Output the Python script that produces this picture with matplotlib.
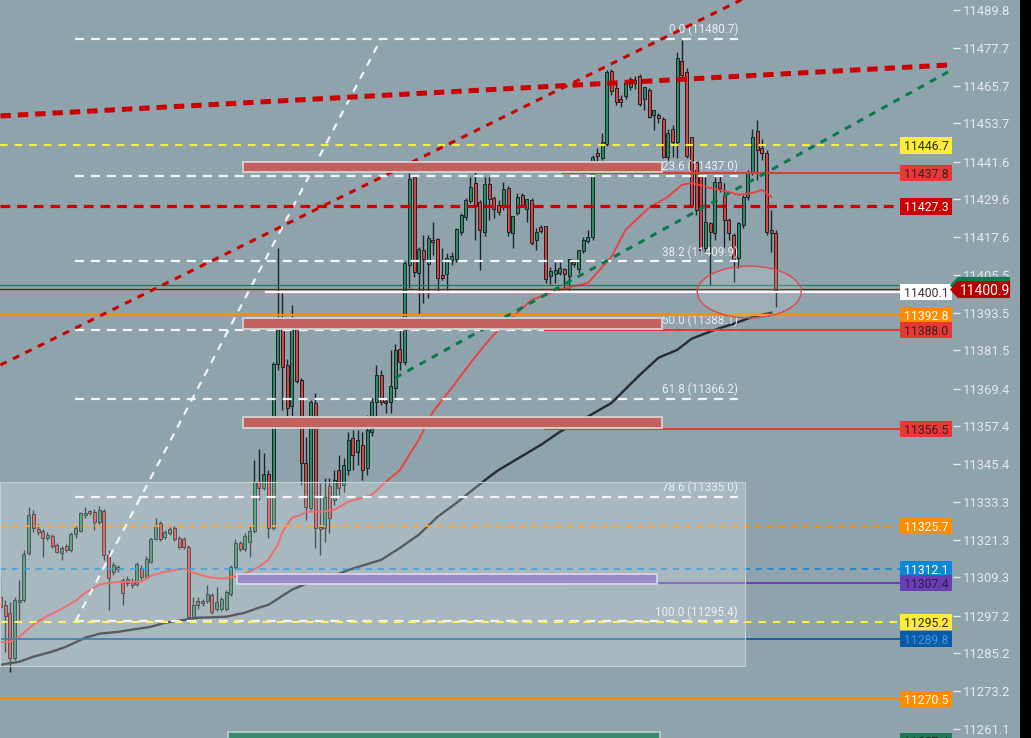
import matplotlib.pyplot as plt
import matplotlib.patches as mpatches
import numpy as np

plt.rcParams['font.family'] = ['Roboto', 'DejaVu Sans']
plt.rcParams['lines.scale_dashes'] = False

# ===== ДАННЫЕ =====
opens = [11303.2, 11300.6, 11298.1, 11283.8, 11301.6, 11302.2, 11317.1, 11329.5, 11324.8, 11324.1,
         11321.9, 11322.6, 11319.7, 11317.1, 11319.4, 11318.1, 11323.2, 11324.1, 11329.2, 11330.5,
         11330.2, 11327.0, 11330.5, 11316.5, 11311.1, 11312.7, 11308.6, 11307.6, 11307.9, 11307.3,
         11312.4, 11309.5, 11314.3, 11321.6, 11326.7, 11322.2, 11323.5, 11325.1, 11321.9, 11321.6,
         11319.1, 11296.8, 11300.6, 11301.9, 11301.9, 11303.8, 11299.3, 11299.3, 11299.3, 11304.1,
         11312.7, 11320.3, 11318.4, 11320.6, 11324.1, 11339.7, 11337.8, 11342.3, 11325.1, 11377.2,
         11389.3, 11376.9, 11363.9, 11389.0, 11372.2, 11345.8, 11331.5, 11364.8, 11325.4, 11325.1,
         11338.5, 11334.0, 11343.5, 11338.8, 11343.5, 11353.7, 11349.3, 11351.5, 11344.2, 11355.6,
         11365.2, 11373.7, 11365.5, 11365.2, 11369.6, 11382.0, 11377.9, 11408.7, 11436.7, 11406.2,
         11413.5, 11409.0, 11416.7, 11417.0, 11405.6, 11405.9, 11410.3, 11410.6, 11419.2, 11424.0,
         11429.1, 11434.8, 11428.8, 11419.2, 11434.5, 11430.0, 11427.8, 11427.2, 11433.2, 11418.9,
         11425.3, 11431.0, 11426.5, 11429.4, 11416.7, 11420.8, 11421.1, 11405.2, 11405.9, 11406.2,
         11407.5, 11405.2, 11409.7, 11407.5, 11413.2, 11416.4, 11417.6, 11444.3, 11442.8, 11447.2,
         11470.4, 11465.0, 11461.5, 11462.5, 11465.3, 11466.6, 11468.8, 11461.5, 11464.4, 11456.4,
         11456.4, 11455.2, 11443.1, 11452.0, 11447.8, 11473.6, 11470.1, 11449.4, 11441.5, 11437.4,
         11414.1, 11422.1, 11418.9, 11435.1, 11430.7, 11423.0, 11418.3, 11411.0, 11421.5, 11430.4,
         11438.0, 11451.3, 11445.9, 11444.3, 11419.9, 11418.9]
highs = [11309.5, 11302.2, 11301.6, 11303.2, 11308.6, 11318.1, 11331.8, 11330.8, 11326.4, 11324.8,
         11323.8, 11323.2, 11320.3, 11319.4, 11320.0, 11323.8, 11326.0, 11330.2, 11331.8, 11330.8,
         11331.1, 11332.1, 11331.1, 11318.1, 11314.3, 11313.3, 11309.2, 11309.8, 11309.2, 11314.3,
         11313.3, 11316.2, 11322.2, 11328.3, 11327.3, 11324.5, 11325.4, 11325.7, 11322.6, 11322.2,
         11319.7, 11303.2, 11303.2, 11302.5, 11307.0, 11304.4, 11306.3, 11303.2, 11305.4, 11313.3,
         11321.6, 11321.0, 11323.5, 11326.0, 11346.7, 11350.2, 11349.0, 11343.5, 11377.9, 11414.1,
         11399.8, 11378.8, 11396.0, 11389.7, 11372.8, 11354.0, 11365.8, 11368.0, 11339.4, 11341.0,
         11341.0, 11343.5, 11348.3, 11347.4, 11355.6, 11356.3, 11356.3, 11355.6, 11361.0, 11366.4,
         11376.9, 11375.3, 11366.4, 11381.7, 11383.6, 11389.7, 11410.0, 11438.0, 11437.4, 11414.5,
         11418.3, 11418.3, 11422.4, 11417.3, 11414.1, 11412.5, 11412.9, 11420.5, 11425.3, 11430.0,
         11436.7, 11439.9, 11429.4, 11436.7, 11436.7, 11430.7, 11429.4, 11435.1, 11433.9, 11424.3,
         11431.6, 11431.6, 11429.7, 11430.0, 11420.5, 11421.5, 11421.1, 11408.1, 11409.7, 11409.7,
         11407.8, 11410.6, 11410.6, 11413.5, 11417.6, 11419.9, 11443.7, 11445.9, 11450.7, 11470.7,
         11471.1, 11466.6, 11462.8, 11467.2, 11468.5, 11468.8, 11469.5, 11465.3, 11465.0, 11458.0,
         11457.1, 11455.8, 11452.0, 11453.3, 11476.5, 11480.3, 11471.4, 11449.4, 11441.5, 11437.4,
         11437.4, 11422.4, 11436.7, 11437.0, 11434.8, 11423.7, 11418.9, 11422.4, 11431.0, 11438.9,
         11452.0, 11454.8, 11448.8, 11445.3, 11426.2, 11419.9]
lows = [11298.4, 11285.7, 11279.3, 11283.1, 11295.8, 11301.6, 11316.5, 11323.8, 11322.9, 11315.9,
        11321.3, 11318.7, 11317.1, 11314.9, 11317.5, 11317.5, 11321.9, 11323.8, 11328.3, 11329.2,
        11324.5, 11326.4, 11314.9, 11299.0, 11310.1, 11311.1, 11300.6, 11306.7, 11306.0, 11306.7,
        11308.6, 11308.9, 11314.0, 11321.3, 11321.0, 11321.6, 11322.9, 11321.0, 11318.4, 11318.4,
        11295.2, 11296.2, 11299.3, 11300.3, 11301.2, 11297.7, 11298.7, 11298.7, 11298.7, 11303.5,
        11312.1, 11317.8, 11317.8, 11315.9, 11323.5, 11334.0, 11337.2, 11321.9, 11324.5, 11375.3,
        11362.6, 11357.5, 11357.9, 11371.2, 11338.8, 11327.6, 11330.8, 11318.7, 11316.5, 11320.6,
        11323.5, 11332.4, 11335.6, 11336.5, 11342.0, 11343.5, 11345.1, 11340.4, 11342.0, 11354.4,
        11360.4, 11364.2, 11361.7, 11361.7, 11365.8, 11375.3, 11376.9, 11401.4, 11404.9, 11392.8,
        11396.6, 11398.2, 11411.9, 11400.1, 11404.0, 11400.8, 11408.7, 11409.7, 11418.3, 11423.0,
        11428.4, 11416.7, 11407.1, 11418.0, 11423.0, 11423.7, 11424.6, 11426.2, 11418.0, 11414.1,
        11424.6, 11427.2, 11422.4, 11415.1, 11413.5, 11418.9, 11403.0, 11402.7, 11403.0, 11405.6,
        11401.4, 11400.8, 11408.1, 11406.2, 11412.5, 11415.7, 11416.7, 11440.2, 11442.1, 11446.6,
        11462.8, 11459.6, 11459.0, 11461.5, 11464.4, 11464.7, 11459.3, 11458.0, 11455.5, 11451.7,
        11453.9, 11442.8, 11442.1, 11443.1, 11442.8, 11468.2, 11442.8, 11427.2, 11424.6, 11411.9,
        11412.9, 11402.4, 11416.7, 11432.0, 11414.5, 11416.7, 11403.3, 11407.8, 11420.5, 11429.4,
        11437.4, 11435.8, 11442.1, 11418.3, 11412.9, 11395.4]
closes = [11300.0, 11297.1, 11283.8, 11302.2, 11302.2, 11316.8, 11329.2, 11325.1, 11323.8, 11321.9,
          11322.9, 11319.4, 11317.5, 11318.7, 11318.1, 11323.2, 11325.1, 11329.9, 11329.9, 11329.9,
          11327.0, 11330.8, 11316.5, 11309.2, 11313.3, 11312.1, 11304.4, 11308.9, 11307.0, 11313.6,
          11309.5, 11315.2, 11321.6, 11326.0, 11321.6, 11323.8, 11324.8, 11321.6, 11319.1, 11319.1,
          11296.8, 11300.6, 11301.9, 11301.2, 11304.1, 11298.4, 11301.6, 11302.5, 11304.7, 11312.7,
          11320.3, 11318.4, 11322.6, 11324.1, 11339.7, 11337.8, 11342.3, 11325.1, 11377.2, 11389.3,
          11376.3, 11363.3, 11389.0, 11371.8, 11345.8, 11331.8, 11365.2, 11325.1, 11324.8, 11335.0,
          11328.3, 11340.4, 11337.8, 11345.1, 11353.1, 11348.3, 11353.1, 11343.5, 11356.3, 11365.2,
          11373.7, 11365.2, 11364.8, 11370.3, 11381.7, 11377.9, 11409.4, 11436.1, 11406.5, 11413.8,
          11410.6, 11417.3, 11416.0, 11404.6, 11404.6, 11411.0, 11411.6, 11420.2, 11424.6, 11429.4,
          11433.5, 11427.5, 11419.9, 11434.5, 11429.7, 11426.5, 11425.6, 11432.9, 11419.2, 11424.3,
          11430.4, 11427.8, 11429.7, 11415.7, 11419.2, 11419.5, 11404.3, 11406.8, 11407.1, 11407.8,
          11405.9, 11410.6, 11409.0, 11413.5, 11416.7, 11417.6, 11443.1, 11443.4, 11447.8, 11470.1,
          11464.1, 11460.6, 11460.6, 11466.6, 11467.9, 11467.6, 11459.9, 11465.3, 11455.8, 11458.0,
          11455.5, 11443.1, 11450.7, 11447.8, 11474.6, 11469.2, 11443.4, 11427.8, 11426.2, 11413.5,
          11422.4, 11419.2, 11435.1, 11433.2, 11423.0, 11418.9, 11410.3, 11422.1, 11430.4, 11438.0,
          11449.4, 11445.3, 11444.3, 11419.2, 11418.9, 11400.8]

# скользящие средние (номер свечи, значение)
red_ma_idx = [0, 2, 4, 7, 10, 13, 16, 18, 21, 23, 26, 30, 32, 35, 39, 41, 44, 47, 51, 55, 57, 59, 60,
              62, 64, 65, 68, 71, 74, 79, 82, 85, 89, 92, 96, 101, 104, 106, 113, 119, 125, 130, 133,
              138, 142, 145, 147, 151, 155, 157, 160, 162, 164]
red_ma_val = [11288.8, 11288.8, 11290.4, 11294.3, 11297.1, 11299.3, 11301.9, 11304.4, 11307.0, 11307.6,
              11307.9, 11307.9, 11309.8, 11311.1, 11312.1, 11310.8, 11309.5, 11308.9, 11309.8, 11312.7,
              11314.9, 11319.7, 11323.8, 11328.3, 11329.2, 11330.2, 11330.2, 11330.8, 11333.4, 11335.6,
              11339.7, 11343.5, 11353.1, 11362.0, 11369.6, 11379.5, 11384.9, 11388.1, 11397.6, 11400.8,
              11403.0, 11411.3, 11419.9, 11426.9, 11430.4, 11434.2, 11434.8, 11433.2, 11431.9, 11431.0,
              11431.6, 11432.6, 11430.4]
black_ma_idx = [0, 4, 7, 11, 14, 18, 21, 25, 28, 32, 35, 39, 42, 48, 52, 55, 57, 59, 62, 65, 69, 74,
                81, 85, 89, 93, 97, 101, 104, 106, 115, 119, 123, 130, 136, 140, 144, 147, 152, 156,
                160, 164]
black_ma_val = [11281.5, 11282.5, 11284.1, 11285.7, 11287.3, 11290.1, 11291.4, 11292.0, 11292.7, 11293.6,
                11294.9, 11295.8, 11296.5, 11296.8, 11298.1, 11299.7, 11300.6, 11302.5, 11305.4, 11307.3,
                11308.6, 11311.7, 11314.9, 11318.7, 11322.9, 11328.6, 11333.0, 11337.8, 11341.3, 11343.5,
                11351.5, 11355.6, 11358.8, 11364.8, 11373.7, 11379.2, 11381.7, 11385.2, 11388.1, 11390.0,
                11392.2, 11393.5]

# уровни Фибоначчи
fib_ratios = ['0.0', '23.6', '38.2', '50.0', '61.8', '78.6', '100.0']
fib_prices = [11480.7, 11437.0, 11409.9, 11388.1, 11366.2, 11335.0, 11295.4]

# горизонтальные уровни с ценниками справа
level_prices = [11446.7, 11437.8, 11427.3, 11400.1, 11392.8, 11388.0, 11356.5,
                11325.7, 11312.1, 11307.4, 11295.2, 11289.8, 11270.5, 11257.4]

# трендовые линии (номер свечи, цена)
red_upper = [(0, 11456.1), (201.6, 11472.3)]
red_diag = [(0, 11376.9), (160, 11494.8)]
green_diag = [(84, 11372.8), (201.6, 11470.1)]
fib_diag = [(16, 11295.4), (81, 11480.7)]

# зоны (начало, конец, низ, верх)
red_zones = [(51.6, 140.7, 11438.2, 11441.6),
             (51.6, 140.7, 11388.4, 11391.8),
             (51.6, 140.7, 11356.8, 11360.3)]
purple_zone = (50.3, 139.7, 11307.2, 11310.5)
green_zone = (48.4, 140.3, 11250.0, 11260.0)

y_ticks = [11489.8, 11477.7, 11465.7, 11453.7, 11441.6, 11429.6, 11417.6, 11405.5, 11393.5, 11381.5,
           11369.4, 11357.4, 11345.4, 11333.3, 11321.3, 11309.3, 11297.2, 11285.2, 11273.2, 11261.1]

last_price = 11400.9
green_mark = 11402.2

# ===== ЦВЕТА =====
BG = '#8fa3ad'
TXT = '#e4e9eb'
UP = '#2a8c64'
DOWN = '#d9443f'
EDGE = '#1d2327'
RED = '#e53935'
DRED = '#cc0000'
ORANGE = '#ff8c00'
YELLOW = '#ffeb3b'
BLUE = '#0a88d6'
DBLUE = '#0b5aa5'
PURPLE = '#6a3fb5'

fig = plt.figure(figsize=(10.31, 7.38), dpi=100, facecolor=BG)
ax = fig.add_axes([0, 0, 953 / 1031, 1])
ax.set_facecolor(BG)
ax.set_xlim(-0.1, 202.66)
ax.set_ylim(11258.24, 11492.98)
for s in ax.spines.values():
    s.set_visible(False)
ax.set_xticks([])
ax.yaxis.tick_right()
ax.set_yticks(y_ticks)
ax.set_yticklabels([f'{t:.1f}' for t in y_ticks])
ax.tick_params(axis='y', direction='out', length=5, width=1, pad=2, labelsize=9.4, colors=TXT)

# ===== СВЕЧИ =====
idx = np.arange(len(opens))
o = np.array(opens)
c = np.array(closes)
cols = np.where(c >= o, UP, DOWN)
ax.vlines(idx, lows, highs, color=EDGE, lw=1, zorder=2)
body = np.maximum(np.abs(c - o), 0.35)
ax.bar(idx, body, bottom=np.minimum(o, c), width=0.64, color=cols, edgecolor=EDGE, lw=0.7, zorder=2.2)

# ===== СКОЛЬЗЯЩИЕ =====
ax.plot(black_ma_idx, black_ma_val, color='#262c30', lw=1.7, zorder=3)
ax.plot(red_ma_idx, red_ma_val, color='#ee4040', lw=1.4, zorder=3)

# ===== ФИБОНАЧЧИ =====
FIB_X0, FIB_X1 = 15.85, 156.9
for r, p in zip(fib_ratios, fib_prices):
    ax.plot([FIB_X0, FIB_X1], [p, p], color='#f2f4f5', lw=1.6, dashes=(6.5, 5), zorder=4)
    ax.annotate(f'{r} ({p:.1f})', (FIB_X1, p), xytext=(0, 1.8), textcoords='offset points',
                ha='right', va='bottom', fontsize=8.4, color='#e8ecee', zorder=4)
(x0, y0), (x1, y1) = fib_diag
ax.plot([x0, x1], [y0, y1], color='#f2f4f5', lw=1.6, dashes=(5.5, 5), zorder=4)

# ===== ГОРИЗОНТАЛЬНЫЕ УРОВНИ =====
LINE_END = 191.4
line_style = [
    (-0.1, YELLOW, 1.5, (5.5, 5)),
    (119.7, RED, 1.5, None),
    (-0.1, DRED, 2.3, (7, 5)),
    (56.5, 'white', 1.6, None),
    (-0.1, ORANGE, 1.6, None),
    (115.8, RED, 1.5, None),
    (115.8, RED, 1.5, None),
    (-0.1, ORANGE, 1.2, (4.5, 4)),
    (-0.1, BLUE, 1.2, (4.5, 4)),
    (120.7, PURPLE, 1.5, None),
    (-0.1, YELLOW, 1.5, (5.5, 5)),
    (-0.1, DBLUE, 1.3, None),
    (-0.1, ORANGE, 1.5, None),
]
for p, (xs, col, lw, dash) in zip(level_prices, line_style):
    ln, = ax.plot([xs, LINE_END], [p, p], color=col, lw=lw, zorder=4)
    if dash:
        ln.set_dashes(dash)

ax.plot([-0.1, 202], [green_mark, green_mark], color='#1b7a55', lw=0.9, zorder=4)
ax.plot([-0.1, 202], [last_price, last_price], color='#8b1010', lw=0.9, zorder=4)

# ===== ТРЕНДОВЫЕ ЛИНИИ =====
(x0, y0), (x1, y1) = red_upper
ax.plot([x0, x1], [y0, y1], color=DRED, lw=3.6, dashes=(7.5, 5), zorder=4.5, solid_capstyle='butt')
(x0, y0), (x1, y1) = red_diag
ax.plot([x0, x1], [y0, y1], color=DRED, lw=2.2, dashes=(5, 5), zorder=4.5)
(x0, y0), (x1, y1) = green_diag
ax.plot([x0, x1], [y0, y1], color='#0b7a4b', lw=2.2, dashes=(5, 5), zorder=4.5)

# ===== ЗОНЫ =====
for xa, xb, lo, hi in red_zones:
    ax.add_patch(mpatches.Rectangle((xa, lo), xb - xa, hi - lo, facecolor='#c25f5f',
                                    edgecolor='#d8d0d0', lw=1.3, zorder=5))
xa, xb, lo, hi = green_zone
ax.add_patch(mpatches.Rectangle((xa, lo), xb - xa, hi - lo, facecolor='#3a8a70',
                                edgecolor='#b8ccc4', lw=1.3, zorder=5))

# светлая область
ax.add_patch(mpatches.Rectangle((-0.1, 11281.2), 158.5, 58.6, facecolor='white', alpha=0.23,
                                edgecolor='none', zorder=6))
ax.add_patch(mpatches.Rectangle((-0.1, 11281.2), 158.5, 58.6, facecolor='none',
                                edgecolor='#c2ced3', lw=0.8, zorder=6))

xa, xb, lo, hi = purple_zone
ax.add_patch(mpatches.Rectangle((xa, lo), xb - xa, hi - lo, facecolor='#9a8cc8',
                                edgecolor='#d8d4e6', lw=1.3, zorder=6.5))

# эллипс
ax.add_patch(mpatches.Ellipse((159.3, 11400.1), 22.1, 16.5, facecolor=(1, 1, 1, 0.13),
                              edgecolor='#e04848', lw=1, zorder=6))

# ===== ЦЕННИКИ =====
TAG_X0, TAG_W, TAG_H = 191.4, 11.05, 5.1
tag_colors = [
    (YELLOW, '#2a2a2a'), (RED, '#3a2222'), (DRED, 'white'), ('white', '#333333'),
    (ORANGE, 'white'), (RED, '#3a2222'), (RED, '#3a2222'), (ORANGE, 'white'),
    (BLUE, 'white'), (PURPLE, '#2a1c44'), (YELLOW, '#2a2a2a'), (DBLUE, '#3f9be6'),
    (ORANGE, 'white'), ('#1a7a55', '#1d2b24'),
]
for p, (bg, fg) in zip(level_prices, tag_colors):
    ax.add_patch(mpatches.Rectangle((TAG_X0, p - TAG_H / 2), TAG_W, TAG_H, facecolor=bg,
                                    edgecolor='none', zorder=8, clip_on=False))
    ax.text(TAG_X0 + TAG_W / 2, p, f'{p:.1f}', ha='center', va='center_baseline',
            fontsize=8.8, color=fg, zorder=9, clip_on=False)

# текущая цена
def price_arrow(p, h):
    return [(202.0, p), (203.7, p + h / 2), (214.8, p + h / 2), (214.8, p - h / 2), (203.7, p - h / 2)]

ax.add_patch(mpatches.Polygon(price_arrow(last_price + 1.3, 5.4), closed=True, facecolor='#0f7a52',
                              edgecolor='none', zorder=8, clip_on=False))
ax.add_patch(mpatches.Polygon(price_arrow(last_price, 5.4), closed=True, facecolor='#b80000',
                              edgecolor='none', zorder=8.5, clip_on=False))
ax.text(209.5, last_price, f'{last_price:.1f}', ha='center', va='center_baseline', fontsize=10,
        color='white', zorder=9, clip_on=False)

# чёрная полоса справа
fig.add_artist(mpatches.Rectangle((1020 / 1031, 0), 11 / 1031, 1, transform=fig.transFigure,
                                  facecolor='black', edgecolor='none'))

fig.savefig('out.png', dpi=100, facecolor=BG)
